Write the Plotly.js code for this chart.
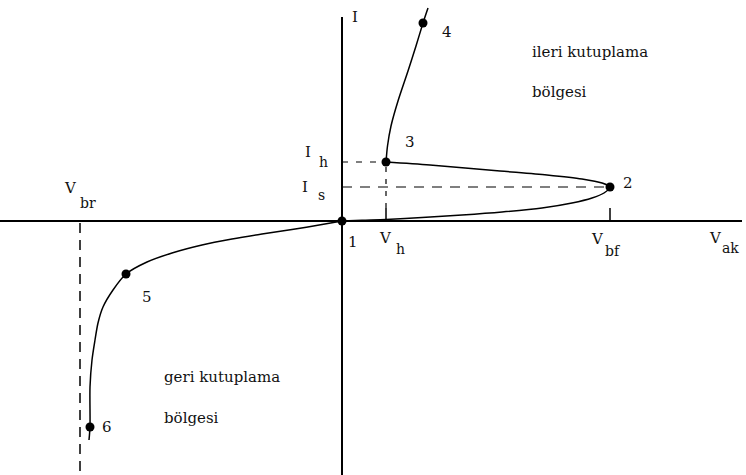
<!DOCTYPE html>
<html>
<head>
<meta charset="utf-8">
<script src="https://cdn.plot.ly/plotly-3.0.1.min.js"></script>
<style>
  html, body { margin: 0; padding: 0; background: #fff; }
  #chart { width: 746px; height: 475px; }
</style>
</head>
<body>
<div id="chart"></div>
<script>
// Thyristor V-I characteristic (arbitrary units, origin at the axis crossing)

// Numbered operating points 1..6
const pointLabels = ['1', '2', '3', '4', '5', '6'];
const pointV = [0, 268, 44, 81, -216, -252];
const pointI = [0, 34, 59, 198, -53, -206];

// Forward blocking branch 1 -> 2 and negative-resistance branch 2 -> 3
const blockingV = [0, 20, 44, 80, 120, 160, 200, 230, 250, 262, 268,
                   260, 240, 205, 158, 88, 44];
const blockingI = [0, 0.8, 1.5, 3.5, 6, 9, 13, 18, 23, 28, 34,
                   38, 42, 46, 50, 56, 59];

// Forward conduction branch 3 -> 4
const conductionV = [44, 45.5, 49, 56, 66, 74, 81, 86];
const conductionI = [59, 75, 95, 120, 150, 175, 198, 213];

// Reverse branch: leakage -> avalanche near V_br
const reverseV = [0, -20, -50, -80, -110, -140, -170, -195, -216,
                  -229, -239, -244, -247, -250, -252, -252, -253];
const reverseI = [0, -3.5, -8.5, -13, -18, -24, -32, -41, -53,
                  -69, -86, -102, -119, -139, -166, -206, -219];

// Reverse breakdown voltage
const vBr = -262;

// Plot window (same units as the data)
const vRange = [-342, 404];
const iRange = [-254, 221];

const black = '#000';
const textFont = { family: 'DejaVu Serif, serif', size: 15, color: '#111' };
const subFont = { family: 'DejaVu Serif, serif', size: 14, color: '#111' };

const iv2 = 1, iv3 = 2; // indexes of breakover and holding points
const vH = pointV[iv3], iH = pointI[iv3];
const vBf = pointV[iv2], iS = pointI[iv2];
const tickLen = 13;

function curve(x, y) {
  return {
    x: x, y: y, mode: 'lines', type: 'scatter',
    line: { color: black, width: 1.5, shape: 'spline', smoothing: 0.8 },
    hoverinfo: 'skip'
  };
}

const traces = [
  curve(blockingV, blockingI),
  curve(conductionV, conductionI),
  curve(reverseV, reverseI),
  {
    x: pointV, y: pointI, mode: 'markers', type: 'scatter',
    marker: { color: black, size: 9 },
    hoverinfo: 'skip'
  }
];

const shapes = [
  // axes
  { type: 'line', xref: 'x', yref: 'y', x0: vRange[0], x1: 400, y0: 0, y1: 0, line: { color: black, width: 2 } },
  { type: 'line', xref: 'x', yref: 'y', x0: 0, x1: 0, y0: iRange[0], y1: 204, line: { color: black, width: 2 } },
  // V_h and V_bf ticks
  { type: 'line', x0: vH, x1: vH, y0: 0, y1: tickLen, line: { color: black, width: 1.5 } },
  { type: 'line', x0: vBf, x1: vBf, y0: 0, y1: tickLen, line: { color: black, width: 1.5 } },
  // guide lines
  { type: 'line', x0: vH, x1: vH, y0: tickLen, y1: iH, line: { color: black, width: 1.2, dash: '5px,7px' } },
  { type: 'line', x0: 0, x1: vH, y0: iH, y1: iH, line: { color: black, width: 1.2, dash: '6px,8px' } },
  { type: 'line', x0: 0, x1: vBf, y0: iS, y1: iS, line: { color: black, width: 1.2, dash: '10px,8px' } },
  { type: 'line', x0: vBr, x1: vBr, y0: -2, y1: iRange[0], line: { color: black, width: 1.5, dash: '10px,7px' } }
];

function label(text, x, y, font, xanchor) {
  return { x: x, y: y, text: text, showarrow: false, font: font || textFont,
           xanchor: xanchor || 'center', yanchor: 'middle' };
}

const annotations = [
  label('I', 13, 204),
  label('I', -34, 69), label('h', -19, 59, subFont),
  label('I', -37, 34), label('s', -21, 26, subFont),
  label('V', -272, 33), label('br', -254, 18, subFont),
  label('V', 43, -17), label('h', 58, -28, subFont),
  label('V', 255, -18), label('bf', 271, -30, subFont),
  label('V', 373, -17), label('ak', 388, -27, subFont),
  label('ileri kutuplama', 188, 169, textFont, 'left'),
  label('bölgesi', 188, 129, textFont, 'left'),
  label('geri kutuplama', -180, -156, textFont, 'left'),
  label('bölgesi', -180, -197, textFont, 'left')
];

// number labels beside each point
const labelShift = [[11, -21], [18, 4], [24, 20], [24, -9], [21, -23], [17, 0]];
pointLabels.forEach(function (t, k) {
  annotations.push(label(t, pointV[k], pointI[k], textFont));
  const a = annotations[annotations.length - 1];
  a.xshift = labelShift[k][0];
  a.yshift = labelShift[k][1];
});

const layout = {
  width: 746, height: 475,
  margin: { l: 0, r: 0, t: 0, b: 0, pad: 0 },
  paper_bgcolor: '#fff', plot_bgcolor: '#fff',
  showlegend: false,
  xaxis: { range: vRange, visible: false, fixedrange: true },
  yaxis: { range: iRange, visible: false, fixedrange: true },
  shapes: shapes,
  annotations: annotations
};

Plotly.newPlot('chart', traces, layout, { staticPlot: true, displayModeBar: false });
</script>
</body>
</html>
